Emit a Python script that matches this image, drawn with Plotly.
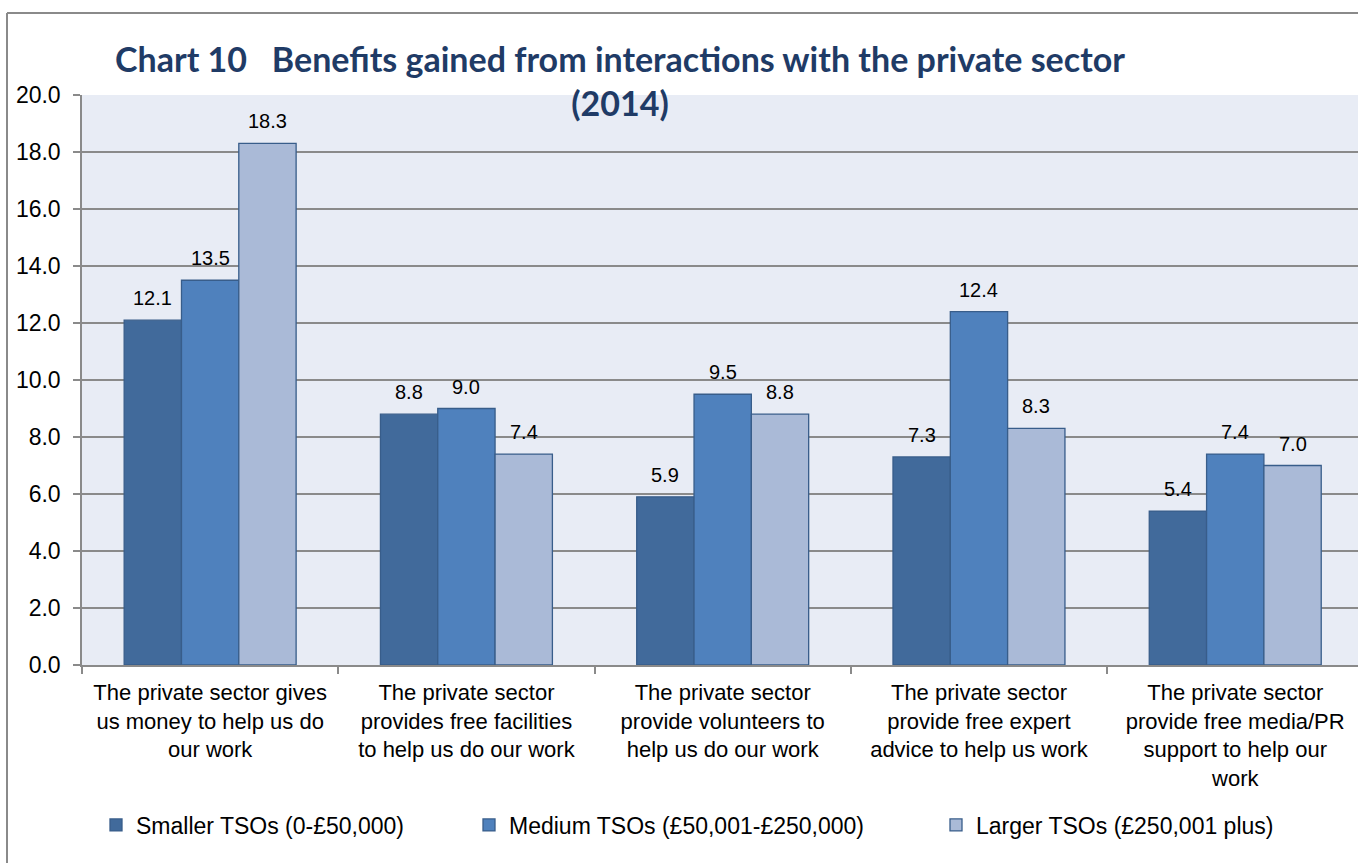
import plotly.graph_objects as go

# Benefits gained from interactions with the private sector, by TSO size (2014)
categories = [
    "The private sector gives<br>us money to help us do<br>our work",
    "The private sector<br>provides free facilities<br>to help us do our work",
    "The private sector<br>provide volunteers to<br>help us do our work",
    "The private sector<br>provide free expert<br>advice to help us work",
    "The private sector<br>provide free media/PR<br>support to help our<br>work",
]
cat_keys = ["money", "facilities", "volunteers", "advice", "media"]

smaller = [12.1, 8.8, 5.9, 7.3, 5.4]
medium = [13.5, 9.0, 9.5, 12.4, 7.4]
larger = [18.3, 7.4, 8.8, 8.3, 7.0]

series_names = [
    "Smaller TSOs (0-£50,000)",
    "Medium TSOs (£50,001-£250,000)",
    "Larger TSOs (£250,001 plus)",
]
series_values = [smaller, medium, larger]
series_colors = ["#416A9B", "#4F81BD", "#AABAD7"]

y_ticks = [0, 2, 4, 6, 8, 10, 12, 14, 16, 18, 20]

W, H = 1358, 863
M_L, M_R, M_T, M_B = 82, 0, 95, 198
PW = W - M_L - M_R
PH = H - M_T - M_B

X_RANGE = [-0.5, 4.479]
BARGAP = 0.329

GRID = "#8A8A8A"
BODY_FONT = "Liberation Sans, Arial, sans-serif"

# pixel width of one category slot and of one bar within a group
cat_px = PW / (X_RANGE[1] - X_RANGE[0])
bar_px = cat_px * (1 - BARGAP) / len(series_values)

# left edge of each legend entry (px), one legend per series
legend_left_px = [96, 469, 936]
legend_ids = ["legend", "legend2", "legend3"]

fig = go.Figure()
for i, (name, vals, col) in enumerate(zip(series_names, series_values, series_colors)):
    fig.add_trace(go.Bar(
        x=cat_keys,
        y=vals,
        name=name,
        legend=legend_ids[i],
        marker=dict(color=col, line=dict(color="#385D8A", width=1.3)),
    ))
    # value labels above each bar
    for k, v in zip(cat_keys, vals):
        fig.add_annotation(
            x=k, y=v, xref="x", yref="y",
            text=f"{v:.1f}", showarrow=False,
            xshift=(i - 1) * bar_px, yshift=9,
            yanchor="bottom", xanchor="center",
            font=dict(family=BODY_FONT, size=20, color="#000000"),
        )

# chart frame (left and top edges are inside the page)
fx = (7 - M_L) / PW
fy = 1 + (M_T - 13) / PH
fig.add_shape(type="line", xref="paper", yref="paper", x0=fx, x1=fx, y0=-2, y1=fy,
              line=dict(color=GRID, width=2))
fig.add_shape(type="line", xref="paper", yref="paper", x0=fx, x1=2, y0=fy, y1=fy,
              line=dict(color=GRID, width=2))

legend_y = -(825 - (H - M_B)) / PH
legend_common = dict(
    orientation="h", xanchor="left", yanchor="middle", y=legend_y,
    font=dict(family=BODY_FONT, size=23, color="#000000"),
    bgcolor="rgba(0,0,0,0)",
)

fig.update_layout(
    width=W, height=H,
    margin=dict(l=M_L, r=M_R, t=M_T, b=M_B, autoexpand=False),
    paper_bgcolor="#FFFFFF",
    plot_bgcolor="#E8ECF5",
    barmode="group",
    bargap=BARGAP,
    bargroupgap=0,
    title=dict(
        text="Chart 10\u00a0\u00a0\u00a0Benefits gained from interactions with the private sector<br>(2014)",
        font=dict(family="Lato, Carlito, Calibri, sans-serif", size=34, color="#1F3B66", weight="bold"),
        x=(620 - M_L) / PW, xref="paper", xanchor="center",
        y=1 - 72 / H, yref="container", yanchor="top",
    ),
    showlegend=True,
    legend=dict(x=(legend_left_px[0] - M_L) / PW, **legend_common),
    legend2=dict(x=(legend_left_px[1] - M_L) / PW, **legend_common),
    legend3=dict(x=(legend_left_px[2] - M_L) / PW, **legend_common),
    xaxis=dict(
        range=X_RANGE,
        tickmode="array", tickvals=cat_keys, ticktext=categories,
        tickson="boundaries", ticks="outside", ticklen=7, tickcolor=GRID, tickwidth=1.5,
        showline=True, linecolor=GRID, linewidth=1.5,
        showgrid=False,
        tickfont=dict(family=BODY_FONT, size=22, color="#000000"),
        ticklabelstandoff=7,
    ),
    yaxis=dict(
        range=[0, 20], tickmode="array", tickvals=y_ticks, tickformat=".1f",
        ticks="outside", ticklen=7, tickcolor=GRID, tickwidth=1.5,
        showline=True, linecolor=GRID, linewidth=1.5,
        showgrid=True, gridcolor=GRID, gridwidth=1.5,
        zeroline=False,
        tickfont=dict(family=BODY_FONT, size=23, color="#000000"),
        ticklabelstandoff=8,
    ),
)

fig.write_html("out.html")
